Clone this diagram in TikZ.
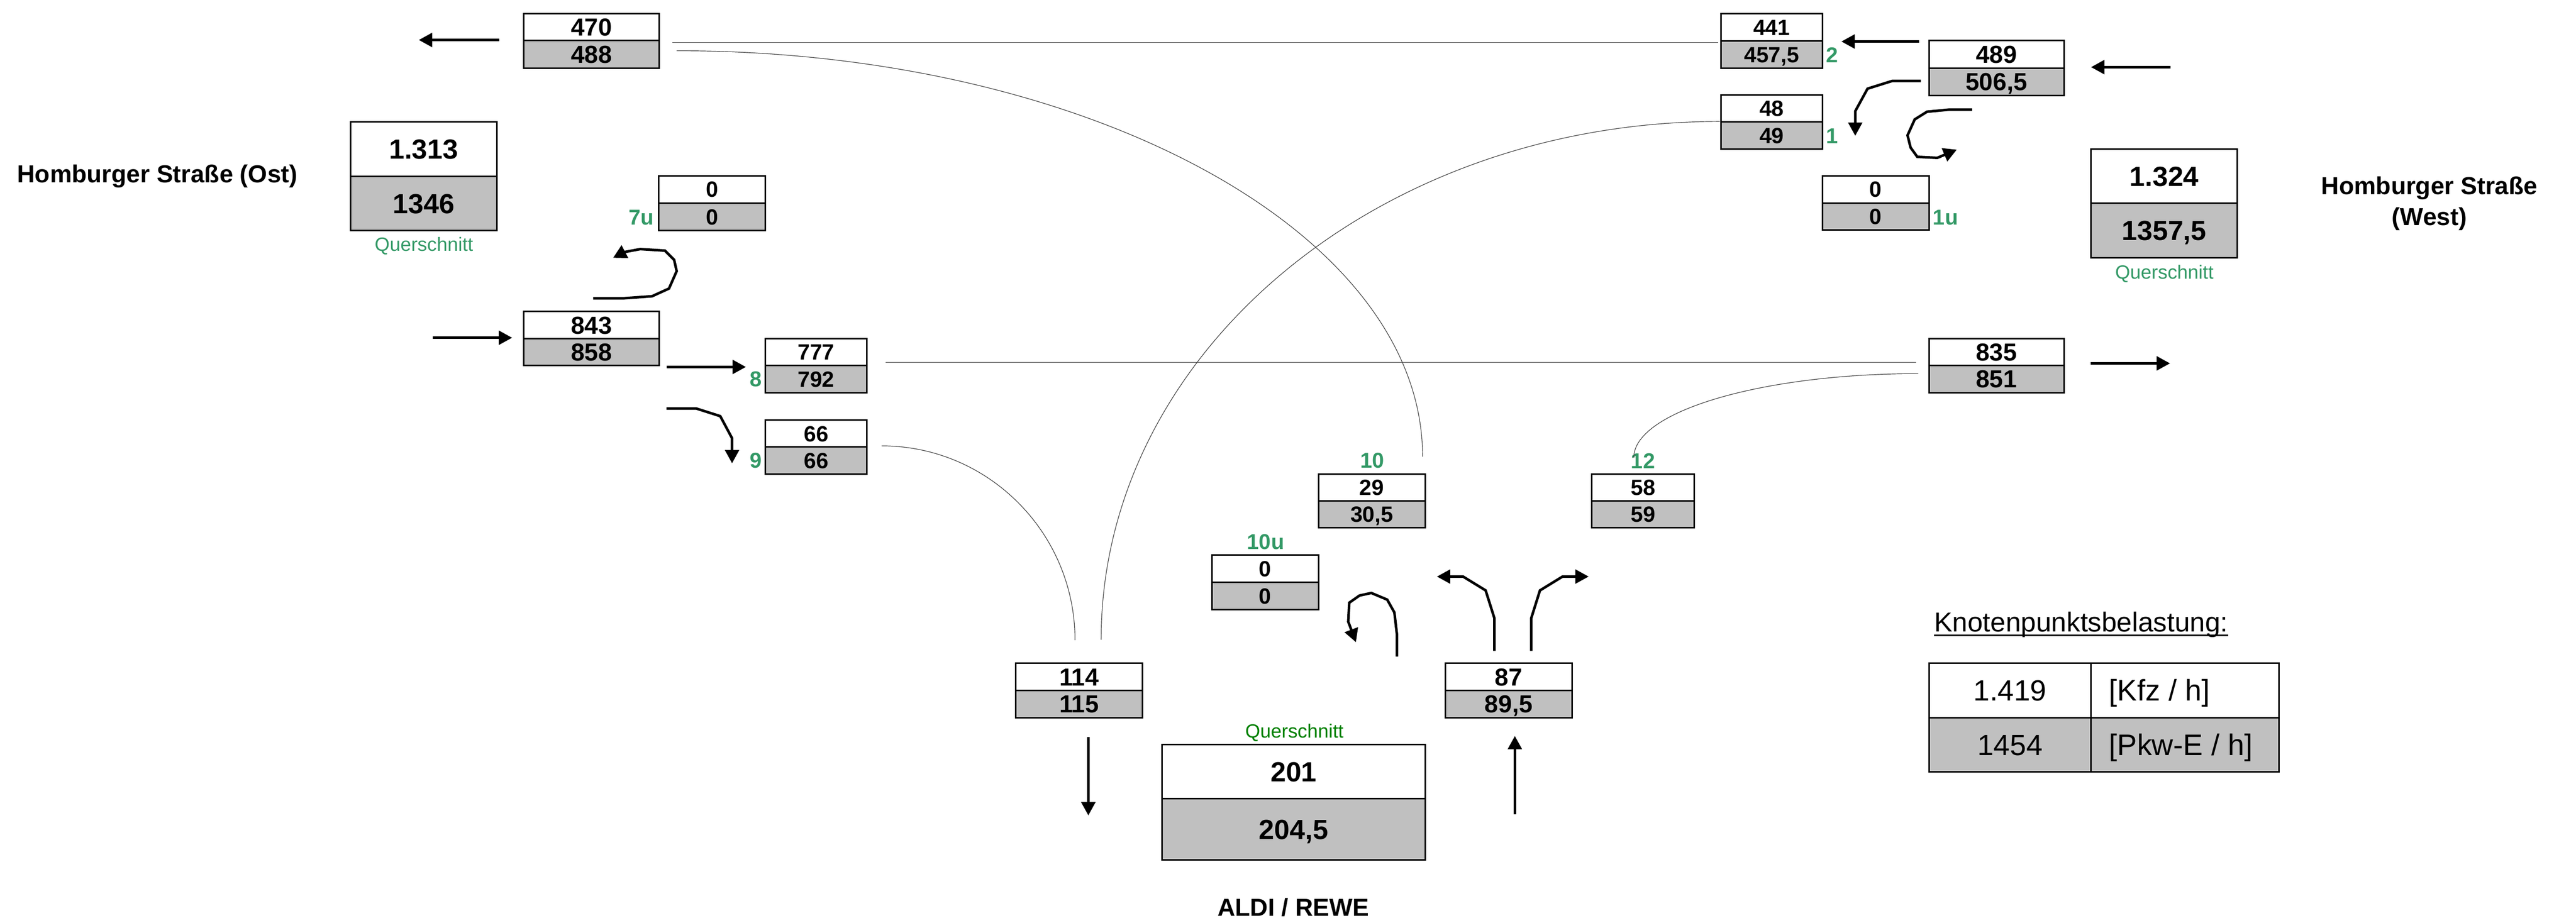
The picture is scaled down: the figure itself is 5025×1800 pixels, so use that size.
\documentclass[tikz,border=0pt]{standalone}
\usepackage{fontspec}
\setmainfont{Liberation Sans}
\usetikzlibrary{arrows.meta}
\definecolor{cellgray}{HTML}{C0C0C0}
\definecolor{labgreen}{HTML}{339966}
\definecolor{qgreen}{HTML}{008000}
\definecolor{linkgray}{HTML}{404040}
\tikzset{
  cellbox/.style={draw=black,line width=3pt,rectangle,inner sep=0pt,outer sep=0pt,text=black,text depth=0pt},
  flow/.style={draw=black,line width=5pt,line join=miter,-{Triangle[length=26pt,width=27pt]}},
  thinlink/.style={draw=linkgray,line width=1.2pt},
  numlabel/.style={text=labgreen,inner sep=0pt,font=\fontsize{42}{42}\selectfont\bfseries},
  querlabel/.style={inner sep=0pt,font=\fontsize{37.5}{37.5}\selectfont},
  heading/.style={inner sep=0pt,align=center,font=\fontsize{48}{61}\selectfont\bfseries},
}
\newcommand{\dcell}[9]{%
  \pgfmathsetmacro\dcw{#3-#2}%
  \pgfmathsetmacro\dchu{#5-#4}%
  \pgfmathsetmacro\dchl{#6-#5}%
  \pgfmathsetmacro\dctx{0.716*#9}%
  \node[cellbox,fill=white,minimum width=\dcw pt,minimum height=\dchu pt,text height=\dctx pt,font=\fontsize{#9}{#9}\selectfont\bfseries] (#1t) at ({(#2+#3)/2},{(#4+#5)/2}) {#7};
  \node[cellbox,fill=cellgray,minimum width=\dcw pt,minimum height=\dchl pt,text height=\dctx pt,font=\fontsize{#9}{#9}\selectfont\bfseries] (#1b) at ({(#2+#3)/2},{(#5+#6)/2}) {#8};
}
\begin{document}
\begin{tikzpicture}[x=1pt,y=-1pt]
\useasboundingbox (0,0) rectangle (5025,1800);
% direction boxes
\dcell{aa}{1022}{1286}{27}{79}{133}{470}{488}{48}
\dcell{ab}{684}{969}{238}{344}{450}{1.313}{1346}{54}
\dcell{ac}{1285}{1493}{343}{396}{450}{0}{0}{43}
\dcell{ad}{1022}{1286}{608}{661}{713}{843}{858}{48}
\dcell{ae}{1493}{1691}{661}{713}{766}{777}{792}{43}
\dcell{af}{1493}{1691}{820}{872}{925}{66}{66}{43}
\dcell{ba}{3357}{3555}{27}{80}{133}{441}{457,5}{43}
\dcell{bb}{3763}{4026}{79}{133}{186}{489}{506,5}{48}
\dcell{bc}{3357}{3555}{185}{238}{291}{48}{49}{43}
\dcell{bd}{3555}{3763}{343}{396}{449}{0}{0}{43}
\dcell{be}{4079}{4364}{291}{396}{503}{1.324}{1357,5}{54}
\dcell{bf}{3763}{4026}{661}{713}{766}{835}{851}{48}
\dcell{ca}{2572}{2780}{925}{977}{1030}{29}{30,5}{43}
\dcell{cb}{3105}{3305}{925}{977}{1030}{58}{59}{43}
\dcell{cc}{2364}{2572}{1083}{1136}{1189}{0}{0}{43}
\dcell{cd}{1981}{2229}{1294}{1347}{1400}{114}{115}{48}
\dcell{ce}{2819}{3067}{1294}{1347}{1400}{87}{89,5}{48}
\dcell{cf}{2267}{2780}{1453}{1558}{1678}{201}{204,5}{54}
% green labels
\node[numlabel] (l7u) at (1251,424) {7u};
\node[numlabel] (l8) at (1474,740) {8};
\node[numlabel] (l9) at (1474,899) {9};
\node[numlabel] (l2) at (3574,107) {2};
\node[numlabel] (l1) at (3574,265) {1};
\node[numlabel] (l1u) at (3795,424) {1u};
\node[numlabel] (l10) at (2677,899) {10};
\node[numlabel] (l12) at (3205,899) {12};
\node[numlabel] (l10u) at (2469,1057) {10u};
\node[querlabel,text=labgreen] (q1) at (827,480) {Querschnitt};
\node[querlabel,text=labgreen] (q2) at (4222,534) {Querschnitt};
\node[querlabel,text=qgreen] (q3) at (2525,1430) {Querschnitt};
% headings
\node[heading] (hO) at (307,344) {Homburger Straße (Ost)};
\node[heading] (hW) at (4739,397) {Homburger Straße\\(West)};
\node[heading] (hS) at (2523,1770) {ALDI / REWE};
% thin links
\draw[thinlink] ([shift={(26,4)}]aat.south east) -- ([shift={(-5,3)}]bat.south west);
\draw[thinlink] ([shift={(34,20)}]aat.south east) .. controls +(803,0) and +(0,-437) .. ([shift={(-5,-34)}]cat.north east);
\draw[thinlink] ([shift={(37,-6)}]aet.south east) -- ([shift={(-25,-6)}]bft.south west);
\draw[thinlink] ([shift={(29,-2)}]aft.south east) .. controls +(208,0) and +(0,-209) .. ([shift={(-8,-45)}]cdt.north);
\draw[thinlink] ([shift={(43,-46)}]cdt.north) .. controls +(0,-558) and +(-667,0) .. ([shift={(-2,-1)}]bct.south west);
\draw[thinlink] ([shift={(-18,-32)}]cbt.north) .. controls +(0,-90) and +(-306,0) .. ([shift={(-21,16)}]bft.south west);
% arrows
\coordinate (p1s) at (974,78); \coordinate (p1e) at (817,78);
\draw[flow] (p1s) -- (p1e);
\coordinate (p2s) at (844,659); \coordinate (p2e) at (999,659);
\draw[flow] (p2s) -- (p2e);
\coordinate (p3s) at (1300,716); \coordinate (p3e) at (1455,716);
\draw[flow] (p3s) -- (p3e);
\coordinate (p4s) at (1300,797); \coordinate (p4e) at (1428,904);
\draw[flow] (p4s) -- (1358,797) -- (1405,812) -- (1428,855) -- (p4e);
\coordinate (p5s) at (1157,582); \coordinate (p5e) at (1196,503);
\draw[flow] (p5s) -- (1217,582) -- (1272,578) -- (1305,563) -- (1320,529) -- (1315,507) -- (1297,489) -- (1249,486) -- (1217,492) -- (p5e);
\coordinate (p6s) at (3744,81); \coordinate (p6e) at (3592,81);
\draw[flow] (p6s) -- (p6e);
\coordinate (p7s) at (4234,131); \coordinate (p7e) at (4079,131);
\draw[flow] (p7s) -- (p7e);
\coordinate (p8s) at (3747,158); \coordinate (p8e) at (3619,265);
\draw[flow] (p8s) -- (3691,158) -- (3643,173) -- (3619,217) -- (p8e);
\coordinate (p9s) at (3847,214); \coordinate (p9e) at (3817,292);
\draw[flow] (p9s) -- (3801,214) -- (3759,218) -- (3735,233) -- (3721,264) -- (3727,288) -- (3740,306) -- (3779,308) -- (p9e);
\coordinate (p10s) at (4078,709); \coordinate (p10e) at (4233,709);
\draw[flow] (p10s) -- (p10e);
\coordinate (p11s) at (2123,1438); \coordinate (p11e) at (2123,1591);
\draw[flow] (p11s) -- (p11e);
\coordinate (p12s) at (2955,1589); \coordinate (p12e) at (2955,1436);
\draw[flow] (p12s) -- (p12e);
\coordinate (p13s) at (2915,1270); \coordinate (p13e) at (2803,1125);
\draw[flow] (p13s) -- (2915,1206) -- (2898,1152) -- (2854,1125) -- (p13e);
\coordinate (p14s) at (2987,1270); \coordinate (p14e) at (3099,1125);
\draw[flow] (p14s) -- (2987,1206) -- (3004,1152) -- (3048,1125) -- (p14e);
\coordinate (p15s) at (2725,1281); \coordinate (p15e) at (2645,1253);
\draw[flow] (p15s) -- (2725,1238) -- (2720,1195) -- (2706,1170) -- (2675,1157) -- (2652,1162) -- (2632,1176) -- (2630,1213) -- (p15e);
% legend
\node[inner sep=0pt,anchor=base west,font=\fontsize{53.4}{53.4}\selectfont] (kn) at (3773,1233) {\rlap{\rule[-8.5pt]{573pt}{3pt}}Knotenpunktsbelastung:};
\node[cellbox,fill=white,minimum width=316pt,minimum height=106pt,text height=41pt,font=\fontsize{57}{57}\selectfont] (k1) at (3921,1347) {1.419};
\node[cellbox,fill=white,minimum width=367pt,minimum height=106pt,text height=41pt,font=\fontsize{58}{58}\selectfont] (k2) at (4262.5,1347) {\makebox[297pt][l]{[Kfz / h]}};
\node[cellbox,fill=cellgray,minimum width=316pt,minimum height=106pt,text height=41pt,font=\fontsize{57}{57}\selectfont] (k3) at (3921,1453) {1454};
\node[cellbox,fill=cellgray,minimum width=367pt,minimum height=106pt,text height=41pt,font=\fontsize{58}{58}\selectfont] (k4) at (4262.5,1453) {\makebox[297pt][l]{[Pkw-E / h]}};
\end{tikzpicture}
\end{document}
